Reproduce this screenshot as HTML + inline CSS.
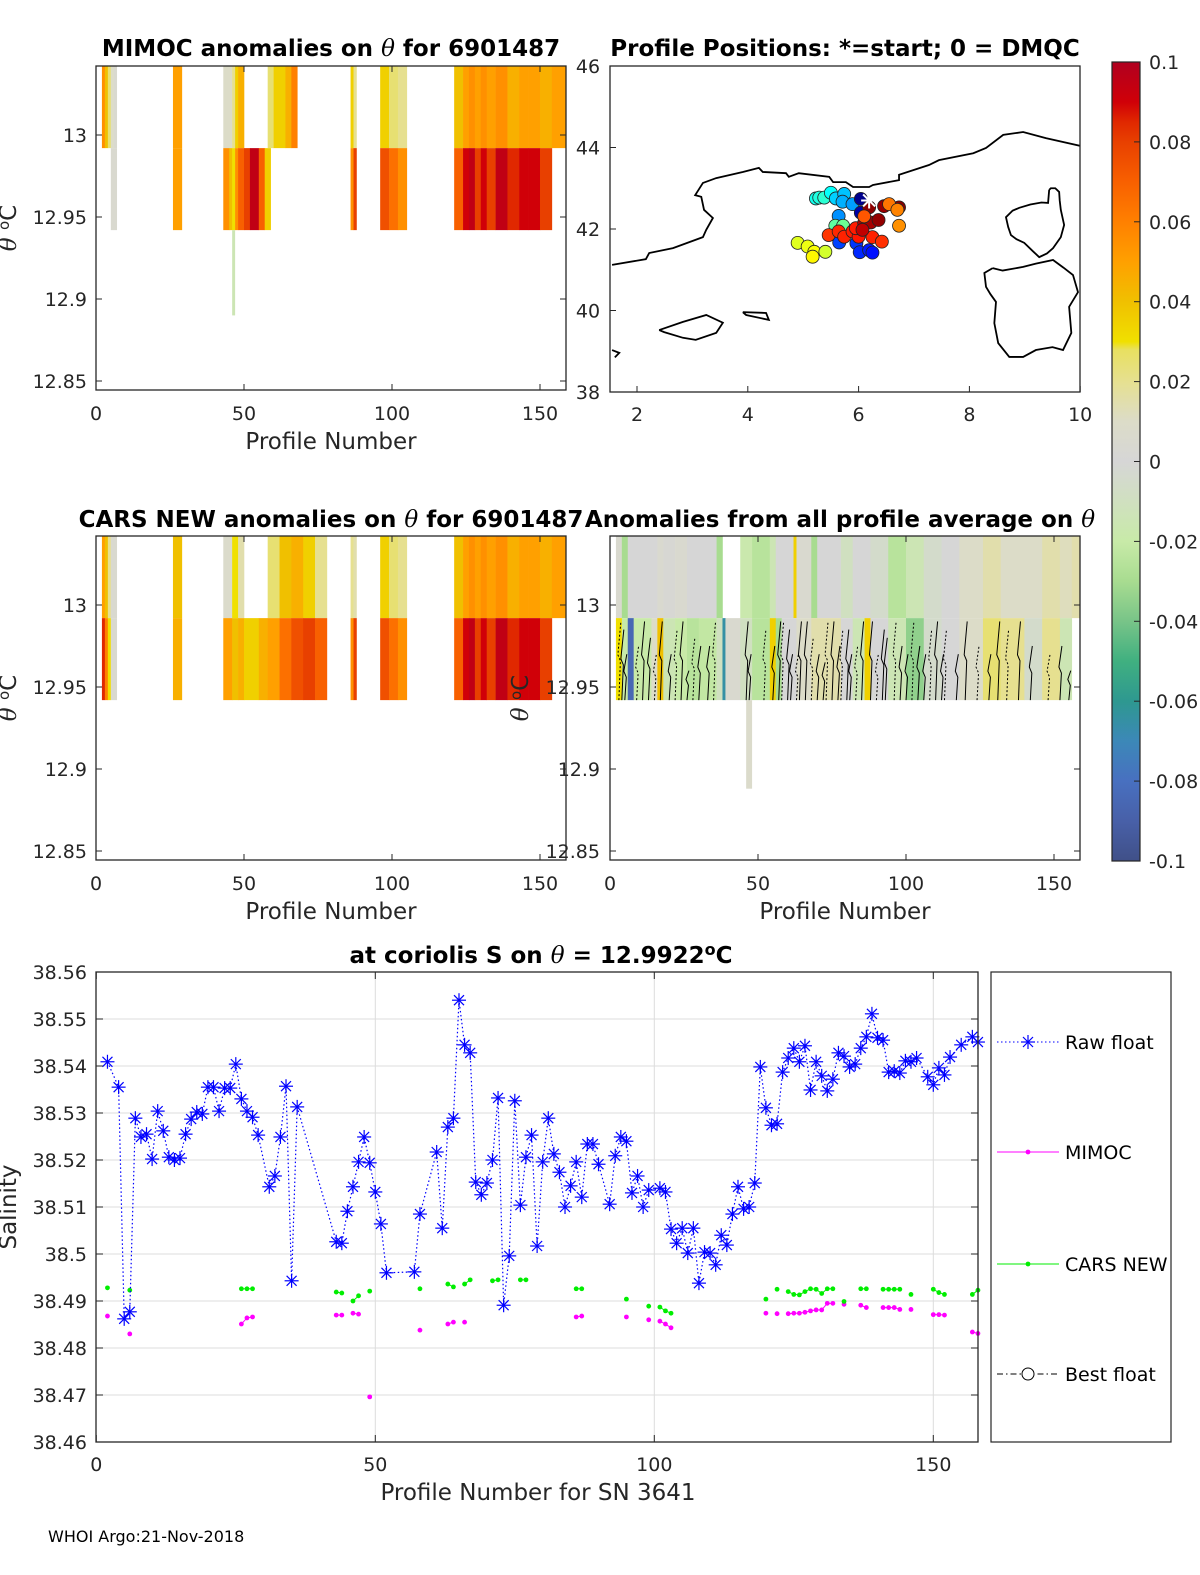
<!DOCTYPE html>
<html><head><meta charset="utf-8"><title>Argo float 6901487 anomalies</title>
<style>
html,body{margin:0;padding:0;background:#fff;}
svg{display:block;font-family:"DejaVu Sans","Liberation Sans",sans-serif;}
.tk{font-size:19px;fill:#262626;}
.ttl{font-size:23px;font-weight:bold;fill:#000;}
.lbl{font-size:23px;fill:#262626;}
.th{font-family:"DejaVu Serif","Liberation Serif",serif;font-style:italic;font-weight:normal;}
</style></head>
<body>
<svg id="fig" width="1200" height="1575" viewBox="0 0 1200 1575" xmlns="http://www.w3.org/2000/svg">
<defs>
<clipPath id="clipA"><rect x="96" y="66" width="470" height="324"/></clipPath>
<clipPath id="clipB"><rect x="96" y="536" width="470" height="324"/></clipPath>
<clipPath id="clipD"><rect x="610" y="536" width="470" height="324"/></clipPath>
<clipPath id="clipM"><rect x="610" y="66" width="470" height="326"/></clipPath>
<linearGradient id="cbgrad" x1="0" y1="0" x2="0" y2="1"></linearGradient>
</defs>
<text class="ttl" x="331" y="56" text-anchor="middle">MIMOC anomalies on <tspan class="th">θ</tspan>  for 6901487</text>
<text class="ttl" x="845" y="56" text-anchor="middle">Profile Positions: *=start; 0 = DMQC</text>
<text class="ttl" x="331" y="527" text-anchor="middle">CARS NEW anomalies on <tspan class="th">θ</tspan> for 6901487</text>
<text class="ttl" x="840" y="527" text-anchor="middle">Anomalies from all profile average on <tspan class="th">θ</tspan></text>
<text class="ttl" x="541" y="963" text-anchor="middle">at coriolis S on <tspan class="th">θ</tspan> = 12.9922<tspan dy="-8" font-size="16">o</tspan><tspan dy="8">C</tspan></text>
<text class="lbl" x="331" y="449" text-anchor="middle">Profile Number</text>
<text class="lbl" x="331" y="919" text-anchor="middle">Profile Number</text>
<text class="lbl" x="845" y="919" text-anchor="middle">Profile Number</text>
<text class="lbl" x="538" y="1500" text-anchor="middle">Profile Number for SN 3641</text>
<text class="lbl" transform="translate(16,228) rotate(-90)" text-anchor="middle"><tspan class="th">θ</tspan> <tspan dy="-7" font-size="15">o</tspan><tspan dy="7">C</tspan></text>
<text class="lbl" transform="translate(16,698) rotate(-90)" text-anchor="middle"><tspan class="th">θ</tspan> <tspan dy="-7" font-size="15">o</tspan><tspan dy="7">C</tspan></text>
<text class="lbl" transform="translate(16,1207) rotate(-90)" text-anchor="middle">Salinity</text>
<text x="48" y="1542" font-size="16" fill="#000">WHOI Argo:21-Nov-2018</text>
</svg>
<script>
// ---------- DATA ----------
const rawProf = [2,4,5,6,7,8,9,10,11,12,13,14,15,16,17,18,19,20,21,22,23,24,25,26,27,28,29,31,32,33,34,35,36,43,44,45,46,47,48,49,50,51,52,57,58,61,62,63,64,65,66,67,68,69,70,71,72,73,74,75,76,77,78,79,80,81,82,83,84,85,86,87,88,89,90,92,93,94,95,96,97,98,99,101,102,103,104,105,106,107,108,109,110,111,112,113,114,115,116,117,118,119,120,121,122,123,124,125,126,127,128,129,130,131,132,133,134,135,136,137,138,139,140,141,142,143,144,145,146,147,149,150,151,152,153,155,157,158];
const rawSal = [38.5409,38.5355,38.4862,38.4877,38.5289,38.5249,38.5255,38.5202,38.5304,38.5262,38.5206,38.5200,38.5204,38.5255,38.5287,38.5302,38.5298,38.5355,38.5355,38.5304,38.5353,38.5353,38.5404,38.5330,38.5304,38.5291,38.5253,38.5143,38.5166,38.5249,38.5357,38.4943,38.5313,38.5026,38.5023,38.5091,38.5143,38.5196,38.5249,38.5194,38.5132,38.5064,38.4960,38.4962,38.5085,38.5217,38.5055,38.5270,38.5289,38.5540,38.5445,38.5428,38.5153,38.5126,38.5151,38.5200,38.5332,38.4891,38.4996,38.5326,38.5104,38.5206,38.5253,38.5017,38.5196,38.5289,38.5213,38.5174,38.5100,38.5145,38.5196,38.5121,38.5234,38.5234,38.5191,38.5106,38.5209,38.5249,38.5240,38.5130,38.5166,38.5100,38.5136,38.5140,38.5132,38.5053,38.5023,38.5055,38.5002,38.5055,38.4938,38.5004,38.5002,38.4977,38.5040,38.5019,38.5085,38.5143,38.5096,38.5100,38.5151,38.5398,38.5311,38.5274,38.5277,38.5387,38.5417,38.5438,38.5409,38.5443,38.5349,38.5409,38.5379,38.5347,38.5372,38.5428,38.5421,38.5398,38.5404,38.5438,38.5462,38.5511,38.5460,38.5455,38.5387,38.5389,38.5385,38.5411,38.5409,38.5417,38.5377,38.5360,38.5396,38.5381,38.5419,38.5445,38.5462,38.5451];
const mimocProf = [2,6,26,27,28,43,44,46,47,49,58,63,64,66,86,87,95,99,101,102,103,120,122,124,125,126,127,128,129,130,131,132,134,137,138,141,142,143,144,146,150,151,152,157,158];
const mimocSal = [38.4868,38.4830,38.4851,38.4864,38.4866,38.4870,38.4870,38.4874,38.4872,38.4696,38.4838,38.4851,38.4855,38.4855,38.4866,38.4868,38.4866,38.4860,38.4857,38.4851,38.4843,38.4874,38.4873,38.4873,38.4874,38.4874,38.4876,38.4879,38.4881,38.4881,38.4895,38.4895,38.4893,38.4891,38.4886,38.4886,38.4886,38.4886,38.4882,38.4882,38.4871,38.4871,38.4870,38.4834,38.4831];
const carsProf = [2,6,26,27,28,43,44,46,47,49,58,63,64,66,67,71,72,76,77,86,87,95,99,101,102,103,120,122,124,125,126,127,128,129,130,131,132,134,137,138,141,142,143,144,146,150,151,152,157,158];
const carsSal = [38.4928,38.4923,38.4926,38.4926,38.4926,38.4919,38.4917,38.4900,38.4911,38.4921,38.4926,38.4936,38.4930,38.4936,38.4945,38.4943,38.4945,38.4945,38.4945,38.4926,38.4926,38.4904,38.4889,38.4887,38.4879,38.4874,38.4904,38.4925,38.4920,38.4914,38.4913,38.4920,38.4926,38.4925,38.4916,38.4926,38.4926,38.4899,38.4926,38.4926,38.4925,38.4925,38.4925,38.4925,38.4914,38.4925,38.4918,38.4914,38.4914,38.4923];
const salTicks = [38.46,38.47,38.48,38.49,38.5,38.51,38.52,38.53,38.54,38.55,38.56];
const salTickLabels = ["38.46","38.47","38.48","38.49","38.5","38.51","38.52","38.53","38.54","38.55","38.56"];
const profTicks = [0,50,100,150];
const legendLabels = ["Raw float","MIMOC","CARS NEW","Best float"];

const thetaLayers = [13.06, 12.992, 12.942];
const thetaTicks = [13, 12.95, 12.9, 12.85];
const thetaTickLabels = ["13","12.95","12.9","12.85"];
const aStart=[2,3,4,5,6,26,43,45,46,47,48,50,52,55,57,58,60,64,66,86,87,96,99,102,121,124,126,128,130,132,135,139,143,146,150,154];
const aEnd=[3,4,5,6,7,29,45,46,47,48,50,52,55,57,59,60,64,66,68,87,88,99,102,105,124,126,128,130,132,135,139,143,146,150,154,158.8];
const aUp=[0.055,0.04,0.025,0.01,0.005,0.05,0.01,0.01,0.02,0.035,0.045,null,null,null,null,0.025,0.035,0.045,0.06,0.035,0.02,0.035,0.025,0.02,0.04,0.05,0.055,0.05,0.055,0.05,0.055,0.045,0.05,0.05,0.045,0.05];
const aLo=[null,null,null,0.005,0.005,0.05,0.055,0.04,0.03,0.055,0.07,0.08,0.095,0.07,0.035,null,null,null,null,0.055,0.08,0.075,0.065,0.055,0.07,0.09,0.095,0.08,0.09,0.08,0.095,0.085,0.09,0.09,0.08,null];
const bStart=[2,3,4,5,26,43,46,48,50,55,58,62,66,70,74,86,87,96,99,102,121,124,126,128,130,132,135,139,143,146,150,154];
const bEnd=[3,4,5,7,29,46,48,50,55,58,62,66,70,74,78,87,88,99,102,105,124,126,128,130,132,135,139,143,146,150,154,158.8];
const bUp=[0.05,0.04,0.02,0.005,0.04,0.008,0.03,0.015,null,null,0.025,0.04,0.045,0.035,0.02,0.02,0.015,0.035,0.025,0.02,0.04,0.05,0.055,0.05,0.055,0.05,0.055,0.045,0.05,0.05,0.045,0.05];
const bLo=[0.085,0.06,0.03,0.005,0.045,0.05,0.04,0.045,0.035,0.045,0.05,0.065,0.075,0.08,0.07,0.055,0.08,0.075,0.065,0.055,0.07,0.09,0.095,0.08,0.09,0.08,0.095,0.085,0.09,0.09,0.08,null];
const dStart=[2,4,6,8,14,16,18,22,26,30,36,38,39,44,48,54,56,58,62,63,68,70,78,82,86,88,94,100,106,112,118,126,132,140,146,152,156];
const dEnd=[4,6,8,14,16,18,22,26,30,36,38,39,44,48,54,56,58,62,63,68,70,78,82,86,88,94,100,106,112,118,126,132,140,146,152,156,158.8];
const dUp=[0.005,-0.03,0,0,0,0.005,0.002,0.005,0,0,-0.03,null,null,-0.018,-0.025,-0.015,0,0,0.035,0.005,-0.03,0,-0.01,0,0,-0.005,-0.025,-0.015,-0.005,0,0.01,0.015,0.01,0.01,0.015,0.012,0.015];
const dLo=[0.03,-0.02,-0.085,-0.02,0.01,0.04,-0.015,-0.02,-0.025,-0.022,-0.01,-0.065,0.005,-0.01,-0.025,0.035,-0.03,0,0,0.01,0.015,0.015,0,-0.015,0.035,0,-0.015,-0.035,-0.005,0,0.01,0.025,0.02,-0.005,0.02,-0.015,null];
const contourProf=[3,4,5,9,11,13,15,17,20,22,24,26,28,30,33,35,46,47,52,55,57,58,60,61,63,64,66,68,70,72,73,75,77,78,80,81,83,85,88,90,92,93,96,98,100,102,104,106,108,110,112,113,117,120,124,128,131,134,138,142,148,152,155];
const contourTop=[12.99,12.985,12.97,12.975,12.99,12.98,12.97,12.99,12.97,12.985,12.99,12.96,12.98,12.975,12.975,12.99,12.99,12.97,12.985,12.975,12.99,12.99,12.985,12.97,12.97,12.99,12.99,12.98,12.97,12.965,12.99,12.99,12.975,12.985,12.985,12.97,12.975,12.99,12.99,12.97,12.985,12.98,12.99,12.975,12.97,12.99,12.975,12.97,12.985,12.99,12.97,12.985,12.97,12.99,12.975,12.97,12.99,12.985,12.99,12.975,12.97,12.975,12.96];

const cbVals=[0.1,0.09,0.085,0.08,0.07,0.06,0.05,0.04,0.03,0.028,0.02,0.01,0,-0.01,-0.02,-0.03,-0.04,-0.05,-0.06,-0.07,-0.08,-0.09,-0.1];
const cbCols=["#b00020","#d00008","#e02800","#e84000","#f86000","#ff8000","#ffa000","#f0c000","#f0e000","#e8e060","#e6e090","#dcdcc8","#d6d6d6","#d0e0c0","#c8eaa8","#a8dc90","#78c488","#40b080","#2e9890","#3c88b8","#4870c0","#4860a8","#405088"];
const cbTicks=[0.1,0.08,0.06,0.04,0.02,0,-0.02,-0.04,-0.06,-0.08,-0.1];
const cbTickLabels=["0.1","0.08","0.06","0.04","0.02","0","-0.02","-0.04","-0.06","-0.08","-0.1"];

const lonTicks=[2,4,6,8,10];
const latTicks=[46,44,42,40,38];
const floatLon=[5.23,5.29,5.38,5.50,5.59,5.74,5.71,5.89,5.64,6.04,6.04,5.58,5.72,4.90,5.08,5.20,5.17,5.40,5.65,5.96,6.02,6.19,6.25,5.46,5.64,5.74,5.89,6.00,6.25,6.42,5.95,6.10,6.22,6.36,6.07,6.19,6.46,6.73,6.55,6.70,6.73,6.10];
const floatLat=[42.75,42.77,42.77,42.89,42.75,42.86,42.67,42.61,42.32,42.74,42.40,42.08,42.08,41.66,41.57,41.44,41.32,41.44,41.67,41.65,41.43,41.48,41.42,41.85,41.94,41.81,41.94,41.81,41.80,41.69,42.02,42.15,42.16,42.22,41.98,42.53,42.56,42.53,42.61,42.47,42.08,42.31];
const floatIdx=[62,64,66,60,52,50,47,44,42,2,6,74,76,94,96,98,100,92,30,28,26,24,22,130,132,133,134,135,133,131,134,150,152,155,148,156,154,157,120,118,116,125];
const startLon=6.19, startLat=42.70;
const coastMainLon=[1.55,2.16,2.22,2.65,3.19,3.25,3.37,3.21,3.16,3.05,3.19,3.43,3.91,4.20,4.27,4.69,4.74,4.92,5.47,5.54,5.77,5.90,6.19,6.26,6.73,6.73,7.27,7.45,8.07,8.30,8.61,8.97,9.38,10.10];
const coastMainLat=[41.12,41.26,41.41,41.53,41.80,41.98,42.27,42.47,42.79,42.83,43.13,43.25,43.40,43.50,43.40,43.37,43.28,43.37,43.28,43.15,43.15,43.03,43.03,43.08,43.20,43.33,43.57,43.69,43.86,43.99,44.31,44.38,44.23,44.01];
const corsicaLon=[9.44,9.47,9.55,9.62,9.63,9.65,9.71,9.65,9.51,9.40,9.26,9.15,8.99,8.85,8.75,8.70,8.66,8.78,8.90,9.10,9.30,9.42,9.44];
const corsicaLat=[42.96,43.00,43.00,42.91,42.70,42.47,42.10,41.80,41.53,41.40,41.31,41.45,41.66,41.75,41.85,42.05,42.29,42.45,42.52,42.60,42.65,42.64,42.96];
const sardiniaLon=[8.42,8.60,8.97,9.20,9.51,9.70,9.87,9.96,9.80,9.84,9.69,9.50,9.20,8.97,8.72,8.52,8.45,8.48,8.38,8.30,8.27,8.42];
const sardiniaLat=[41.04,40.98,41.07,41.15,41.24,41.05,40.87,40.45,40.09,39.45,39.03,39.10,39.03,38.86,38.86,39.20,39.69,40.21,40.40,40.58,40.92,41.04];
const mallorcaLon=[2.40,2.83,3.25,3.55,3.43,3.06,2.83,2.49,2.40];
const mallorcaLat=[39.52,39.72,39.89,39.70,39.45,39.28,39.33,39.47,39.52];
const menorcaLon=[3.91,4.33,4.38,3.97,3.91];
const menorcaLat=[39.96,39.94,39.77,39.89,39.96];
const ibizaLon=[1.55,1.68,1.60];
const ibizaLat=[39.03,38.96,38.85];

// ---------- HELPERS ----------
const NS="http://www.w3.org/2000/svg";
const svg=document.getElementById('fig');
function mk(tag,attrs,parent){const e=document.createElementNS(NS,tag);for(const k in attrs)e.setAttribute(k,attrs[k]);(parent||svg).appendChild(e);return e;}
function hex(c){return [parseInt(c.slice(1,3),16),parseInt(c.slice(3,5),16),parseInt(c.slice(5,7),16)];}
function cmap(v){
  if(v>=cbVals[0])return cbCols[0];
  for(let i=0;i<cbVals.length-1;i++){
    if(v<=cbVals[i]&&v>=cbVals[i+1]){const t=(cbVals[i]-v)/(cbVals[i]-cbVals[i+1]);const a=hex(cbCols[i]),b=hex(cbCols[i+1]);
      return 'rgb('+a.map((x,j)=>Math.round(x+(b[j]-x)*t)).join(',')+')';}
  }
  return cbCols[cbCols.length-1];
}
function jet(t){const c=x=>Math.max(0,Math.min(1,x));return 'rgb('+[c(1.5-Math.abs(4*t-3)),c(1.5-Math.abs(4*t-2)),c(1.5-Math.abs(4*t-1))].map(x=>Math.round(x*255)).join(',')+')';}

// ---------- HEATMAP PANELS ----------
function panel(name,x0,y0,starts,ends,ups,los,clip,extP0,extP1,extV,extBottom){
  const xs=p=>x0+p*2.96;
  const ys=t=>y0+69+(13-t)*1640;
  const g=mk('g',{'clip-path':'url(#'+clip+')'});
  
  
  for(let i=0;i<starts.length;i++){
    const vals=[ups[i],los[i]];
    for(let L=0;L<2;L++){
      if(vals[L]===null)continue;
      const r=mk('rect',{x:xs(starts[i]),y:ys(thetaLayers[L]),width:xs(ends[i])-xs(starts[i])+0.3,height:ys(thetaLayers[L+1])-ys(thetaLayers[L]),fill:cmap(vals[L])},g);
      
      
    }
  }
  if(extP0!==null){
    const r=mk('rect',{x:xs(extP0),y:ys(thetaLayers[2]),width:xs(extP1)-xs(extP0),height:ys(extBottom)-ys(thetaLayers[2]),fill:cmap(extV)},g);
    
    
  }
  return {xs,ys,g};
}
function frame(name,x0,y0,w,h,yLabelsX,xs,ys,anchor){
  const f=mk('rect',{x:x0,y:y0,width:w,height:h,fill:'none',stroke:'#262626','stroke-width':1.3});
  
  
  profTicks.forEach(p=>{
    const X=xs(p);
    mk('line',{x1:X,y1:y0+h,x2:X,y2:y0+h-6,stroke:'#262626'});
    mk('line',{x1:X,y1:y0,x2:X,y2:y0+6,stroke:'#262626'});
    const t=mk('text',{x:X,y:y0+h+30,'text-anchor':'middle',class:'tk'});
    t.textContent=p;
    
    
  });
  thetaTicks.forEach((v,i)=>{
    const Y=ys(v);
    mk('line',{x1:x0,y1:Y,x2:x0+6,y2:Y,stroke:'#262626'});
    mk('line',{x1:x0+w,y1:Y,x2:x0+w-6,y2:Y,stroke:'#262626'});
    const t=mk('text',{x:yLabelsX,y:Y+7,'text-anchor':anchor,class:'tk'});
    t.textContent=thetaTickLabels[i];
    
    
  });
}
const pA=panel('mimoc',96,66,aStart,aEnd,aUp,aLo,'clipA',46,47,-0.015,12.89);
frame('mimoc',96,66,470,324,87,pA.xs,pA.ys,'end');
const pB=panel('cars',96,536,bStart,bEnd,bUp,bLo,'clipB',null,null,null,null);
frame('cars',96,536,470,324,87,pB.xs,pB.ys,'end');
const pD=panel('avg',610,536,dStart,dEnd,dUp,dLo,'clipD',46,48,0.008,12.888);
contourProf.forEach((p,i)=>{
  const x=pD.xs(p), yb=pD.ys(thetaLayers[2]), yt=pD.ys(contourTop[i]);
  const pts=[x+','+yb, (x+1.5)+','+((yb+yt)/2), (x-1)+','+((yb+yt)/2-6), (x+2)+','+yt].join(' ');
  const l=mk('polyline',{points:pts,fill:'none',stroke:'#000','stroke-width':1,'stroke-dasharray':i%3===0?'2,2':'none'},pD.g);
  
  
});
frame('avg',610,536,470,324,600,pD.xs,pD.ys,'end');
const dyl=mk('text',{class:'lbl',transform:'translate(528,698) rotate(-90)','text-anchor':'middle'});


dyl.innerHTML='<tspan class="th">θ</tspan> <tspan dy="-7" font-size="15">o</tspan><tspan dy="7">C</tspan>';

// ---------- MAP ----------
const lonX=l=>637+(l-2)*55.4, latY=a=>66+(46-a)*40.75;
const mg=mk('g',{'clip-path':'url(#clipM)'});


[[coastMainLon,coastMainLat,'mainland-coastline'],[corsicaLon,corsicaLat,'corsica-coastline'],[sardiniaLon,sardiniaLat,'sardinia-coastline'],[mallorcaLon,mallorcaLat,'mallorca-coastline'],[menorcaLon,menorcaLat,'menorca-coastline'],[ibizaLon,ibizaLat,'ibiza-coastline']].forEach(c=>{
  const pts=c[0].map((l,i)=>lonX(l)+','+latY(c[1][i])).join(' ');
  const pl=mk('polyline',{points:pts,fill:'none',stroke:'#000','stroke-width':1.8},mg);
  
  
});
floatLon.forEach((l,i)=>{
  const c=mk('circle',{cx:lonX(l),cy:latY(floatLat[i]),r:6.5,fill:jet(floatIdx[i]/158),stroke:'#222','stroke-width':0.8},mg);
  
  
});
(function(){
  const sx=lonX(startLon),sy=latY(startLat);
  const s=mk('g',{},mg);
  
  
  [[-8,0,8,0],[0,-8,0,8],[-6,-6,6,6],[-6,6,6,-6]].forEach(d=>mk('line',{x1:sx+d[0],y1:sy+d[1],x2:sx+d[2],y2:sy+d[3],stroke:'#fff','stroke-width':2},s));
})();
const mf=mk('rect',{x:610,y:66,width:470,height:326,fill:'none',stroke:'#262626','stroke-width':1.3});


lonTicks.forEach(l=>{
  const X=lonX(l);
  mk('line',{x1:X,y1:392,x2:X,y2:386,stroke:'#262626'});
  const t=mk('text',{x:X,y:421,'text-anchor':'middle',class:'tk'});
  t.textContent=l;
  
  
});
latTicks.forEach(a=>{
  const Y=latY(a);
  mk('line',{x1:610,y1:Y,x2:616,y2:Y,stroke:'#262626'});
  const t=mk('text',{x:588,y:Y+7,'text-anchor':'middle',class:'tk'});
  t.textContent=a;
  
  
});

// ---------- COLORBAR ----------
const grad=document.getElementById('cbgrad');
cbVals.forEach((v,i)=>{mk('stop',{offset:((0.1-v)/0.2*100)+'%','stop-color':cbCols[i]},grad);});
const cb=mk('rect',{x:1112,y:62,width:28,height:799,fill:'url(#cbgrad)',stroke:'#262626','stroke-width':1.2});


const cbY=v=>62+(0.1-v)/0.2*799;
cbTicks.forEach((v,i)=>{
  mk('line',{x1:1134,y1:cbY(v),x2:1140,y2:cbY(v),stroke:'#262626'});
  const t=mk('text',{x:1149,y:cbY(v)+7,class:'tk','font-size':'17'});
  t.textContent=cbTickLabels[i];
  
  
});

// ---------- SALINITY CHART ----------
const px=p=>96.3+p*5.58, sy=s=>972+(38.56-s)*4700;
const sg=mk('g',{});


salTicks.forEach((v,i)=>{
  const Y=sy(v);
  const gl=mk('line',{x1:96,y1:Y,x2:978,y2:Y,stroke:'#dcdcdc','stroke-width':1},sg);
  
  
  mk('line',{x1:96,y1:Y,x2:103,y2:Y,stroke:'#262626'});
  mk('line',{x1:978,y1:Y,x2:971,y2:Y,stroke:'#262626'});
  const t=mk('text',{x:87,y:Y+7,'text-anchor':'end',class:'tk'});
  t.textContent=salTickLabels[i];
  
  
});
profTicks.forEach(p=>{
  const X=px(p);
  if(p>0){const gl=mk('line',{x1:X,y1:972,x2:X,y2:1442,stroke:'#dcdcdc'},sg);
    
    }
  mk('line',{x1:X,y1:1442,x2:X,y2:1435,stroke:'#262626'});
  mk('line',{x1:X,y1:972,x2:X,y2:979,stroke:'#262626'});
  const t=mk('text',{x:X,y:1471,'text-anchor':'middle',class:'tk'});
  t.textContent=p;
  
  
});
function segLines(prof,vals,color,name){
  for(let i=1;i<prof.length;i++){
    if(prof[i]-prof[i-1]===1){
      const l=mk('line',{x1:px(prof[i-1]),y1:sy(vals[i-1]),x2:px(prof[i]),y2:sy(vals[i]),stroke:color,'stroke-width':1},sg);
      
      
    }
  }
  prof.forEach((p,i)=>{
    const c=mk('circle',{cx:px(p),cy:sy(vals[i]),r:2.4,fill:color},sg);
    
    
  });
}
segLines(mimocProf,mimocSal,'#ff00ff','mimoc');
segLines(carsProf,carsSal,'#00ee00','cars-new');
const rawLine=mk('polyline',{points:rawProf.map((p,i)=>px(p)+','+sy(rawSal[i])).join(' '),fill:'none',stroke:'#0000ff','stroke-width':1.2,'stroke-dasharray':'1.5,2.5'},sg);


function star(x,y,parent){
  const g=mk('g',{},parent);
  [[-7,0,7,0],[0,-7,0,7],[-5,-5,5,5],[-5,5,5,-5]].forEach(d=>mk('line',{x1:x+d[0],y1:y+d[1],x2:x+d[2],y2:y+d[3],stroke:'#0000ff','stroke-width':1.2},g));
  return g;
}
rawProf.forEach((p,i)=>{
  const s=star(px(p),sy(rawSal[i]),sg);
  
  
});
const sf=mk('rect',{x:96,y:972,width:882,height:470,fill:'none',stroke:'#262626','stroke-width':1.3});



// ---------- LEGEND ----------
const lg=mk('g',{});


mk('rect',{x:991,y:972,width:180,height:470,fill:'#fff',stroke:'#262626','stroke-width':1.2},lg);
const legY=[1042,1152,1264,1374];
legendLabels.forEach((lab,i)=>{
  const e=mk('g',{},lg);
  
  
  const Y=legY[i];
  if(i===0){mk('line',{x1:997,y1:Y,x2:1059,y2:Y,stroke:'#0000ff','stroke-dasharray':'1.5,2.5'},e);star(1028,Y,e);}
  if(i===1){mk('line',{x1:997,y1:Y,x2:1059,y2:Y,stroke:'#ff00ff'},e);mk('circle',{cx:1028,cy:Y,r:2.4,fill:'#ff00ff'},e);}
  if(i===2){mk('line',{x1:997,y1:Y,x2:1059,y2:Y,stroke:'#00ee00'},e);mk('circle',{cx:1028,cy:Y,r:2.4,fill:'#00ee00'},e);}
  if(i===3){mk('line',{x1:997,y1:Y,x2:1059,y2:Y,stroke:'#000','stroke-dasharray':'6,3,1.5,3'},e);mk('circle',{cx:1028,cy:Y,r:6,fill:'#fff',stroke:'#000'},e);}
  const t=mk('text',{x:1065,y:Y+7,'font-size':'19',fill:'#000'},e);
  t.textContent=lab;
});
</script>
</body></html>
